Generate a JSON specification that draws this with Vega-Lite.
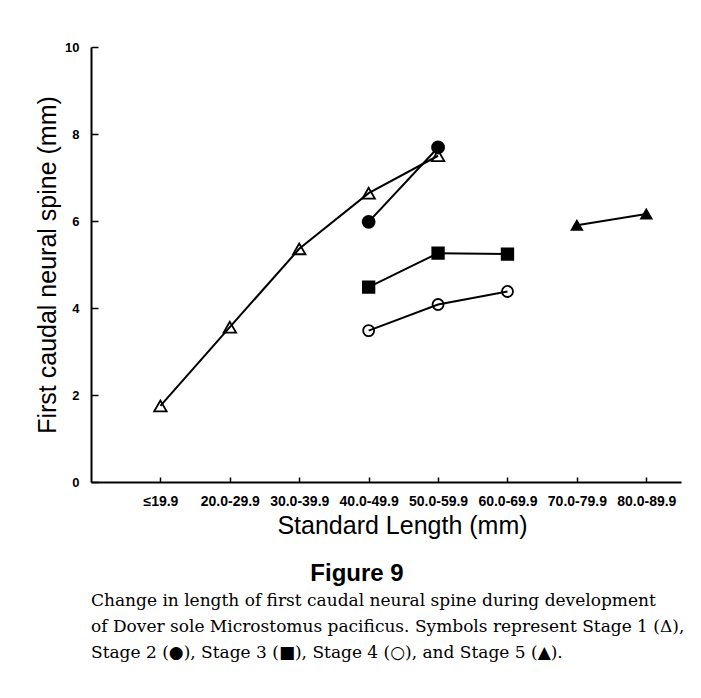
{
  "$schema": "https://vega.github.io/schema/vega-lite/v6.json",
  "padding": {"left": 35, "top": 41, "right": 5, "bottom": 5},
  "spacing": 6,
  "config": {"view": {"stroke": null}, "font": "Liberation Sans"},
  "datasets": {
    "spine": [
      {"length": "≤19.9", "idx": 0, "stage": "Stage 1", "spine": 1.75},
      {"length": "20.0-29.9", "idx": 1, "stage": "Stage 1", "spine": 3.56},
      {"length": "30.0-39.9", "idx": 2, "stage": "Stage 1", "spine": 5.36},
      {"length": "40.0-49.9", "idx": 3, "stage": "Stage 1", "spine": 6.64},
      {"length": "50.0-59.9", "idx": 4, "stage": "Stage 1", "spine": 7.5},
      {"length": "40.0-49.9", "idx": 3, "stage": "Stage 2", "spine": 5.98},
      {"length": "50.0-59.9", "idx": 4, "stage": "Stage 2", "spine": 7.69},
      {"length": "40.0-49.9", "idx": 3, "stage": "Stage 3", "spine": 4.48},
      {"length": "50.0-59.9", "idx": 4, "stage": "Stage 3", "spine": 5.26},
      {"length": "60.0-69.9", "idx": 5, "stage": "Stage 3", "spine": 5.24},
      {"length": "40.0-49.9", "idx": 3, "stage": "Stage 4", "spine": 3.48},
      {"length": "50.0-59.9", "idx": 4, "stage": "Stage 4", "spine": 4.08},
      {"length": "60.0-69.9", "idx": 5, "stage": "Stage 4", "spine": 4.38},
      {"length": "70.0-79.9", "idx": 6, "stage": "Stage 5", "spine": 5.9},
      {"length": "80.0-89.9", "idx": 7, "stage": "Stage 5", "spine": 6.16}
    ]
  },
  "vconcat": [
    {
      "width": 590,
      "height": 435,
      "data": {"name": "spine"},
      "title": {"text": "Figure 9", "orient": "bottom", "anchor": "middle", "dx": -29, "offset": 24, "font": "Liberation Sans", "fontSize": 24, "fontWeight": "bold", "color": "black"},
      "encoding": {
        "x": {
          "field": "idx", "type": "quantitative",
          "scale": {"domain": [-1, 7.5], "nice": false, "zero": false},
          "axis": {
            "values": [0, 1, 2, 3, 4, 5, 6, 7],
            "labelExpr": "['≤19.9','20.0-29.9','30.0-39.9','40.0-49.9','50.0-59.9','60.0-69.9','70.0-79.9','80.0-89.9'][datum.value]",
            "title": "Standard Length (mm)",
            "grid": false,
            "domainColor": "black", "domainWidth": 2,
            "tickColor": "black", "tickWidth": 1.5, "tickSize": -5,
            "labelPadding": 17, "labelFont": "Liberation Sans", "labelFontSize": 14, "labelFontWeight": "bold", "labelColor": "black",
            "labelFlush": false, "labelOverlap": false,
            "titleFont": "Liberation Sans", "titleFontSize": 25, "titleFontWeight": "normal", "titleColor": "black",
            "titlePadding": 5, "titleX": 311
          }
        },
        "y": {
          "field": "spine", "type": "quantitative",
          "scale": {"domain": [0, 10], "nice": false},
          "axis": {
            "values": [0, 2, 4, 6, 8, 10],
            "title": "First caudal neural spine (mm)",
            "grid": false,
            "domainColor": "black", "domainWidth": 2,
            "tickColor": "black", "tickWidth": 1.5, "tickSize": -7,
            "labelPadding": 19, "labelFont": "Liberation Sans", "labelFontSize": 13, "labelFontWeight": "bold", "labelColor": "black",
            "labelFlush": false, "labelOverlap": false,
            "titleFont": "Liberation Sans", "titleFontSize": 25, "titleFontWeight": "normal", "titleColor": "black",
            "titlePadding": 4
          }
        }
      },
      "layer": [
        {
          "mark": {"type": "line", "color": "black", "strokeWidth": 2},
          "encoding": {"detail": {"field": "stage", "type": "nominal"}}
        },
        {
          "mark": {"type": "point", "filled": true, "strokeWidth": 1.8, "opacity": 1},
          "encoding": {
            "shape": {"field": "stage", "type": "nominal", "scale": {"domain": ["Stage 1", "Stage 2", "Stage 3", "Stage 4", "Stage 5"], "range": ["triangle-up", "circle", "square", "circle", "triangle-up"]}, "legend": null},
            "fill": {"field": "stage", "type": "nominal", "scale": {"domain": ["Stage 1", "Stage 2", "Stage 3", "Stage 4", "Stage 5"], "range": ["transparent", "black", "black", "transparent", "black"]}, "legend": null},
            "size": {"field": "stage", "type": "ordinal", "scale": {"domain": ["Stage 1", "Stage 2", "Stage 3", "Stage 4", "Stage 5"], "range": [156, 110, 85, 100, 132]}, "legend": null},
            "stroke": {"value": "black"}
          }
        }
      ]
    },
    {
      "width": 600,
      "height": 1,
      "data": {"values": []},
      "mark": "point",
      "title": {
        "text": [
          "Change in length of first caudal neural spine during development",
          "of Dover sole Microstomus pacificus. Symbols represent Stage 1 (Δ),",
          "Stage 2 (●), Stage 3 (■), Stage 4 (○), and Stage 5 (▲)."
        ],
        "orient": "top", "anchor": "start", "font": "DejaVu Serif", "fontSize": 17, "fontWeight": "normal", "lineHeight": 26, "color": "black", "offset": 0
      }
    }
  ]
}
